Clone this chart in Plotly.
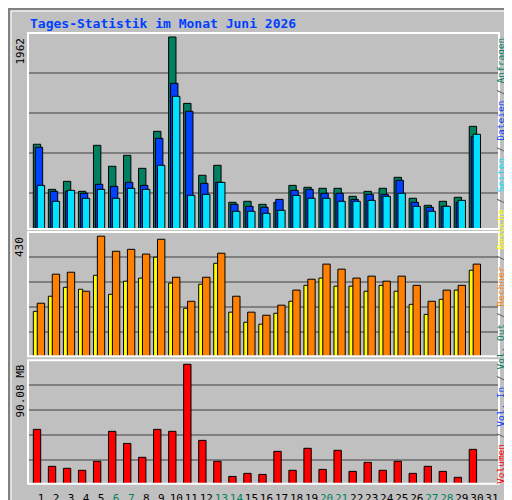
import plotly.graph_objects as go

days = list(range(1, 31))
hits = [866,405,487,385,855,641,753,620,998,1962,1284,549,651,273,283,252,273,446,426,416,416,334,385,416,528,314,242,283,324,1049]
files = [835,385,385,365,457,436,477,446,927,1489,1203,467,477,252,232,222,303,395,405,365,365,303,354,354,498,273,222,232,273,947]
pages = [446,283,395,314,405,314,416,405,651,1356,344,354,477,181,181,160,191,344,314,314,283,283,293,334,365,232,181,232,293,968]
visits = [161,215,247,240,290,222,269,280,355,262,172,258,333,158,122,115,154,197,254,280,251,251,233,254,233,186,150,204,237,308]
sites = [190,294,301,233,430,376,383,366,419,283,197,283,369,215,158,147,183,237,276,330,312,280,287,269,287,254,197,237,254,330]
volume = [41.0,13.1,11.6,10.1,16.9,39.5,30.4,19.9,41.0,39.5,90.08,32.7,16.9,5.5,7.8,7.0,24.4,10.1,26.7,10.8,25.2,9.3,16.1,10.1,16.9,7.8,13.1,9.3,4.8,25.9]
weekend = {6,7,13,14,20,21,27,28}
tick_days = list(range(1, 32))

BG = "#C0C0C0"
line = dict(color="black", width=1)
fig = go.Figure()
def bar(y, color, off, w, ax):
    fig.add_trace(go.Bar(x=days, y=y, marker=dict(color=color, line=line), offset=off, width=w,
                         xaxis="x" + ax, yaxis="y" + ax, showlegend=False))
bar(hits, "#008060", -0.51, 0.49, "")
bar(files, "#0040FF", -0.38, 0.49, "")
bar(pages, "#00E0FF", -0.25, 0.49, "")
bar(visits, "#FFFF00", -0.51, 0.29, "2")
bar(sites, "#FF8000", -0.25, 0.49, "2")
bar(volume, "#FF0000", -0.51, 0.49, "3")

def py(p): return 1 - p / 500
xr = [0.135, 31.47]
xd = [20/512, 491/512]
common = dict(range=xr, domain=xd, showgrid=False, zeroline=False, fixedrange=True, automargin=False)
ticktext = [f"<span style='color:{'#008060' if d in weekend else 'black'}'>{d}</span>" for d in tick_days]
ycommon = dict(showticklabels=False, gridcolor="#808080", gridwidth=2, zeroline=False, automargin=False)
fig.update_layout(
    width=512, height=500, margin=dict(l=0, r=0, t=0, b=0, autoexpand=False),
    paper_bgcolor=BG, plot_bgcolor=BG, barmode="overlay",
    font=dict(family="DejaVu Sans Mono", size=11, color="black"),
    xaxis=dict(**common, anchor="y", showticklabels=False, ticks=""),
    xaxis2=dict(**common, anchor="y2", showticklabels=False, ticks=""),
    xaxis3=dict(**common, anchor="y3", tickvals=tick_days, ticktext=ticktext, ticks="",
                tickangle=0, ticklabelstandoff=6, tickfont=dict(size=11)),
    yaxis=dict(domain=[py(221), py(25)], range=[0, 2003], tickvals=[368,777,1185,1594], **ycommon),
    yaxis2=dict(domain=[py(348.3), py(224)], range=[0, 445], tickvals=[86,175.6,265,354.8], **ycommon),
    yaxis3=dict(domain=[py(475.7), py(352.3)], range=[0, 93.1], tickvals=[17.6,36.5,55.4,74.5], **ycommon),
)
for (t, b) in [(25, 221), (224, 348.3), (352.3, 475.7)]:
    fig.add_shape(type="rect", xref="paper", yref="paper", x0=20/512, x1=491/512, y0=py(b), y1=py(t),
                  line=dict(color="white", width=2))
fig.add_shape(type="rect", xref="paper", yref="paper", x0=0.002, x1=0.998, y0=0.002, y1=0.998,
              line=dict(color="#808080", width=2))
fig.add_shape(type="rect", xref="paper", yref="paper", x0=0.006, x1=0.994, y0=0.006, y1=0.994,
              line=dict(color="white", width=1))

fig.add_annotation(text="<b>Tages-Statistik im Monat Juni 2026</b>", xref="paper", yref="paper",
                   x=20/512, y=py(15), xanchor="left", yanchor="middle", showarrow=False,
                   font=dict(size=13, color="#0040FF", family="DejaVu Sans Mono"))
for txt, top in [("1962", 28), ("430", 227), ("90.08 MB", 355)]:
    fig.add_annotation(text=txt, xref="paper", yref="paper", x=12/512, y=py(top), textangle=-90,
                       xanchor="center", yanchor="top", showarrow=False,
                       font=dict(size=11, color="black", family="DejaVu Sans Mono"))
sl = "<span style='color:#505050'> / </span>"
parts = [("Volumen", "#FF0000"), ("Vol. In", "#0040FF"), ("Vol. Out", "#008060"), ("Rechner", "#FF8000"),
         ("Besuche", "#FFFF00"), ("Seiten", "#00E0FF"), ("Dateien", "#0040FF"), ("Anfragen", "#008060")]
rt = sl.join(f"<span style='color:{c}'>{t}</span>" for t, c in parts)
fig.add_annotation(text=rt, xref="paper", yref="paper", x=500/512, y=py(253.5), textangle=-90,
                   showarrow=False, font=dict(size=9.5, family="DejaVu Sans Mono"))
fig.write_html("out.html")
